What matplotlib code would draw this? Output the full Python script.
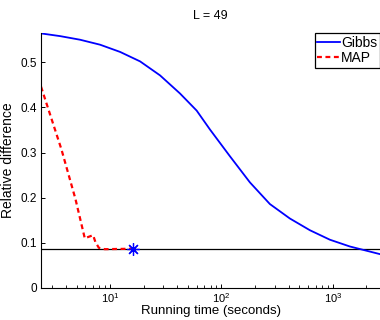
import numpy as np
import matplotlib.pyplot as plt
from matplotlib.ticker import LogLocator, NullFormatter

plt.rcParams['font.family'] = ['Liberation Sans', 'DejaVu Sans']

# Gibbs sampler: running time (s) vs relative difference
gibbs_t = [2.4, 3.56, 5.38, 8.13, 12.3, 18.6, 28.1, 42.4, 59.9, 78.9, 119,
           180, 272, 411, 622, 940, 1420, 2650]
gibbs_err = [0.564, 0.558, 0.550, 0.539, 0.523, 0.502, 0.471, 0.431, 0.393,
             0.351, 0.292, 0.234, 0.186, 0.154, 0.128, 0.107, 0.092, 0.075]

# MAP estimate
map_t = [2.4, 3.66, 4.89, 5.93, 6.36, 7.04, 7.38, 7.93, 8.96, 16.0]
map_err = [0.446, 0.307, 0.197, 0.110, 0.113, 0.117, 0.102, 0.089, 0.086, 0.087]

ref_level = 0.087
title = 'L = 49'

fig = plt.figure(figsize=(3.8, 3.2), dpi=100)
ax = fig.add_axes([0.108, 0.1, 0.892, 0.797])

ax.plot(gibbs_t, gibbs_err, color='#0000ff', lw=1.3, label='Gibbs')
ax.plot(map_t, map_err, color='#ff0000', lw=1.6, ls=(0, (2.2, 1.6)), label='MAP')
ax.axhline(ref_level, color='black', lw=0.9, zorder=1)
ax.plot([map_t[-1]], [map_err[-1]], marker=(8, 2, 0), ms=9, mew=0.9,
        color='#0000ff', ls='none')

ax.set_xscale('log')
ax.set_xlim(2.4, 2650)
ax.set_ylim(0, 0.565)
ax.set_yticks([0, 0.1, 0.2, 0.3, 0.4, 0.5])
ax.set_yticklabels(['0', '0.1', '0.2', '0.3', '0.4', '0.5'])
ax.xaxis.set_minor_locator(LogLocator(base=10, subs=np.arange(2, 10)))
ax.xaxis.set_minor_formatter(NullFormatter())

ax.spines['top'].set_visible(False)
ax.spines['right'].set_visible(False)
ax.tick_params(direction='in', labelsize=8.5, length=3, width=0.7, pad=3)
ax.tick_params(axis='x', labelsize=8, pad=2)
ax.tick_params(which='minor', direction='in', length=2, width=0.6)
ax.set_xlabel('Running time (seconds)', fontsize=9.5, labelpad=0)
ax.set_ylabel('Relative difference', fontsize=10, labelpad=4)
ax.set_title(title, fontsize=9, pad=10)

leg = ax.legend(loc='upper right', fontsize=10, handlelength=1.6, handletextpad=0.1,
                borderpad=0.2, labelspacing=0.1, borderaxespad=0.0,
                fancybox=False, framealpha=1, edgecolor='black')
leg.get_frame().set_linewidth(0.9)

fig.savefig('out.png', dpi=100)
